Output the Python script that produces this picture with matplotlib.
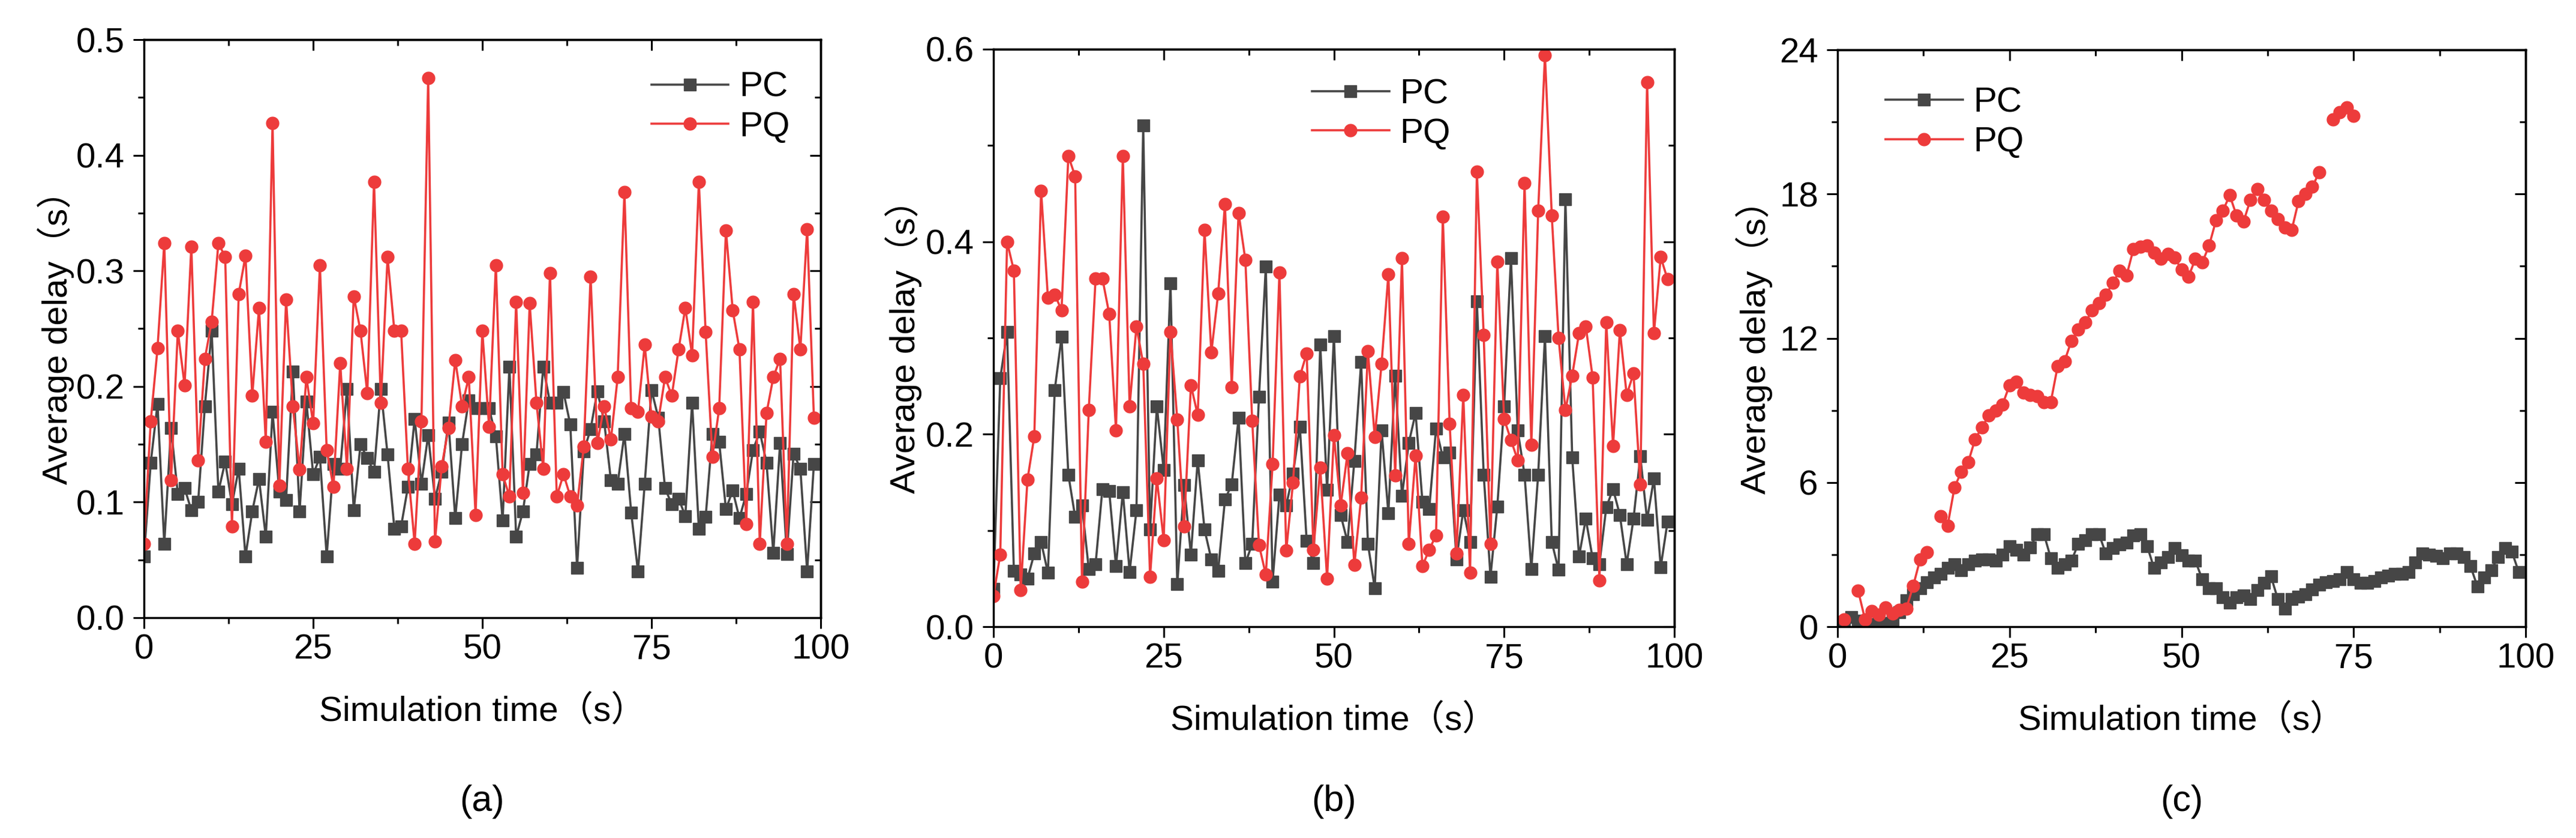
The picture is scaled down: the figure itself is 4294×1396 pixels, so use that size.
import numpy as np
import matplotlib
matplotlib.use('Agg')
import matplotlib.pyplot as plt
from matplotlib.ticker import MultipleLocator

plt.rcParams['font.family'] = ['Liberation Sans', 'Noto Sans CJK SC', 'DejaVu Sans']

# simulation time, one point per second
t = np.arange(100)

# panel (a)
pc_a = [0.053, 0.134, 0.185, 0.064, 0.164, 0.107, 0.112, 0.093, 0.100, 0.183,
        0.248, 0.109, 0.135, 0.098, 0.129, 0.053, 0.092, 0.120, 0.070, 0.178,
        0.109, 0.102, 0.213, 0.092, 0.187, 0.124, 0.139, 0.053, 0.133, 0.129,
        0.198, 0.093, 0.150, 0.138, 0.126, 0.198, 0.141, 0.077, 0.079, 0.113,
        0.172, 0.116, 0.158, 0.103, 0.126, 0.169, 0.086, 0.150, 0.188, 0.181,
        0.181, 0.181, 0.157, 0.084, 0.217, 0.070, 0.092, 0.133, 0.141, 0.217,
        0.186, 0.186, 0.195, 0.167, 0.043, 0.144, 0.163, 0.196, 0.170, 0.119,
        0.116, 0.159, 0.091, 0.040, 0.116, 0.197, 0.173, 0.112, 0.098, 0.103,
        0.088, 0.186, 0.077, 0.087, 0.159, 0.152, 0.094, 0.110, 0.086, 0.107,
        0.145, 0.161, 0.134, 0.056, 0.151, 0.055, 0.142, 0.129, 0.040, 0.133]
pq_a = [0.064, 0.170, 0.233, 0.324, 0.119, 0.248, 0.201, 0.321, 0.136, 0.224,
        0.256, 0.324, 0.312, 0.079, 0.280, 0.313, 0.192, 0.268, 0.152, 0.428,
        0.114, 0.275, 0.183, 0.128, 0.208, 0.168, 0.305, 0.145, 0.113, 0.220,
        0.129, 0.278, 0.248, 0.194, 0.377, 0.186, 0.312, 0.248, 0.248, 0.129,
        0.064, 0.170, 0.467, 0.066, 0.131, 0.164, 0.223, 0.183, 0.208, 0.089,
        0.248, 0.165, 0.305, 0.124, 0.105, 0.273, 0.108, 0.272, 0.186, 0.129,
        0.298, 0.105, 0.124, 0.105, 0.097, 0.148, 0.295, 0.151, 0.183, 0.154,
        0.208, 0.368, 0.181, 0.178, 0.236, 0.174, 0.170, 0.208, 0.192, 0.232,
        0.268, 0.227, 0.377, 0.247, 0.139, 0.181, 0.335, 0.266, 0.232, 0.081,
        0.273, 0.064, 0.177, 0.208, 0.224, 0.064, 0.280, 0.232, 0.336, 0.173]

# panel (b)
pc_b = [0.039, 0.258, 0.306, 0.058, 0.054, 0.050, 0.076, 0.088, 0.056, 0.246,
        0.301, 0.158, 0.114, 0.126, 0.060, 0.065, 0.143, 0.141, 0.063, 0.140,
        0.057, 0.121, 0.521, 0.101, 0.229, 0.163, 0.357, 0.044, 0.147, 0.075,
        0.173, 0.101, 0.070, 0.058, 0.132, 0.148, 0.217, 0.066, 0.086, 0.239,
        0.374, 0.047, 0.137, 0.126, 0.159, 0.208, 0.089, 0.066, 0.293, 0.142,
        0.302, 0.116, 0.088, 0.172, 0.275, 0.086, 0.040, 0.204, 0.118, 0.261,
        0.136, 0.191, 0.222, 0.130, 0.122, 0.206, 0.176, 0.181, 0.070, 0.121,
        0.088, 0.338, 0.158, 0.052, 0.125, 0.229, 0.383, 0.204, 0.158, 0.060,
        0.158, 0.302, 0.088, 0.059, 0.444, 0.176, 0.073, 0.112, 0.071, 0.065,
        0.124, 0.143, 0.116, 0.065, 0.112, 0.177, 0.111, 0.154, 0.062, 0.109]
pq_b = [0.032, 0.075, 0.400, 0.370, 0.038, 0.153, 0.198, 0.453, 0.342, 0.345,
        0.329, 0.489, 0.468, 0.047, 0.225, 0.362, 0.362, 0.325, 0.204, 0.489,
        0.229, 0.312, 0.273, 0.052, 0.154, 0.090, 0.306, 0.215, 0.104, 0.251,
        0.220, 0.412, 0.285, 0.346, 0.439, 0.249, 0.430, 0.381, 0.214, 0.085,
        0.054, 0.169, 0.368, 0.079, 0.150, 0.260, 0.284, 0.080, 0.165, 0.050,
        0.199, 0.126, 0.180, 0.064, 0.134, 0.286, 0.197, 0.273, 0.366, 0.157,
        0.383, 0.086, 0.178, 0.063, 0.080, 0.095, 0.426, 0.211, 0.076, 0.241,
        0.056, 0.473, 0.303, 0.086, 0.379, 0.216, 0.194, 0.173, 0.461, 0.189,
        0.432, 0.594, 0.427, 0.300, 0.225, 0.261, 0.305, 0.312, 0.259, 0.048,
        0.316, 0.188, 0.308, 0.241, 0.263, 0.148, 0.566, 0.305, 0.384, 0.361]

# panel (c), nan where no point is drawn
pc_c = [0.15, 0.20, 0.40, 0.25, 0.10, 0.10, 0.15, 0.15, 0.30, 0.60,
        1.10, 1.35, 1.60, 1.85, 2.05, 2.20, 2.45, 2.60, 2.35, 2.60,
        2.75, 2.80, 2.80, 2.75, 3.00, 3.35, 3.20, 3.00, 3.30, 3.85,
        3.85, 2.85, 2.45, 2.60, 2.75, 3.45, 3.60, 3.85, 3.85, 3.04,
        3.27, 3.42, 3.50, 3.80, 3.85, 3.35, 2.44, 2.66, 2.89, 3.27,
        2.97, 2.74, 2.74, 1.98, 1.60, 1.60, 1.22, 0.99, 1.22, 1.29,
        1.14, 1.52, 1.83, 2.09, 1.14, 0.76, 1.14, 1.25, 1.35, 1.55,
        1.75, 1.85, 1.90, 1.98, 2.28, 1.98, 1.83, 1.83, 1.90, 2.05,
        2.13, 2.20, 2.20, 2.28, 2.66, 3.04, 3.00, 2.94, 2.85, 3.04,
        3.04, 2.89, 2.51, 1.67, 2.05, 2.36, 2.89, 3.27, 3.12, 2.28]
pq_c = [np.nan, 0.30, np.nan, 1.50, 0.30, 0.65, 0.50, 0.80, 0.55, 0.70,
        0.75, 1.70, 2.80, 3.10, np.nan, 4.60, 4.20, 5.80, 6.45, 6.85,
        7.80, 8.30, 8.80, 9.00, 9.25, 10.05, 10.20, 9.75, 9.65, 9.60,
        9.35, 9.35, 10.85, 11.05, 11.90, 12.35, 12.65, 13.15, 13.45, 13.80,
        14.30, 14.80, 14.60, 15.70, 15.80, 15.85, 15.55, 15.30, 15.50, 15.35,
        14.85, 14.55, 15.30, 15.15, 15.85, 16.90, 17.30, 17.95, 17.10, 16.85,
        17.75, 18.20, 17.75, 17.30, 16.95, 16.60, 16.50, 17.70, 18.00, 18.30,
        18.90, np.nan, 21.10, 21.40, 21.60, 21.25] + [np.nan] * 24

GRAY = '#464646'
RED = '#ed3b3b'
FS = 42
W, H = 4294, 1396


def px_rect(left, top, right, bottom):
    # pixel box -> figure fraction rect
    return [left / W, 1 - bottom / H, (right - left) / W, (bottom - top) / H]


panels = [
    # box, pc, pq, ylim, major, minor, yfmt, legend anchor, ylabel x offset(px), tag
    ((240, 66, 1368, 1029), pc_a, pq_a, (0, 0.5), 0.1, 0.05, '{:.1f}', (0.75, 0.945), 147, '(a)'),
    ((1656, 82, 2791, 1044), pc_b, pq_b, (0, 0.6), 0.2, 0.1, '{:.1f}', (0.468, 0.950), 150, '(b)'),
    ((3063, 83, 4210, 1044), pc_c, pq_c, (0, 24), 6, 3, '{:.0f}', (0.070, 0.936), 139, '(c)'),
]

fig = plt.figure(figsize=(W / 100, H / 100), dpi=100)

for box, pc, pq, ylim, major, minor, yfmt, anchor, ylab_dx, tag in panels:
    rect = px_rect(*box)
    w_px, h_px = box[2] - box[0], box[3] - box[1]
    ax = fig.add_axes(rect)
    ax.plot(t, pc, color=GRAY, lw=2.6, marker='s', ms=14, mec=GRAY, mfc=GRAY, label='PC')
    ax.plot(t, pq, color=RED, lw=2.6, marker='o', ms=15, mec=RED, mfc=RED, label='PQ')
    ax.set_xlim(0, 100)
    ax.xaxis.set_major_locator(MultipleLocator(25))
    ax.xaxis.set_minor_locator(MultipleLocator(12.5))
    yt = np.arange(ylim[0], ylim[1] + major / 2, major)
    ax.set_yticks(yt)
    ax.set_yticklabels([yfmt.format(v) for v in yt])
    ax.yaxis.set_minor_locator(MultipleLocator(minor))
    ax.set_ylim(*ylim)
    for s in ax.spines.values():
        s.set_linewidth(2.5)
    ax.tick_params(which='both', direction='out', labelsize=FS, width=2.2)
    ax.tick_params(axis='x', pad=6)
    ax.tick_params(axis='y', pad=10)
    ax.tick_params(which='major', length=13)
    ax.tick_params(which='minor', length=7)

    # mirrored ticks pointing inwards on the top and right
    top = ax.secondary_xaxis('top')
    top.xaxis.set_major_locator(MultipleLocator(25))
    top.xaxis.set_minor_locator(MultipleLocator(12.5))
    right = ax.secondary_yaxis('right')
    right.yaxis.set_major_locator(MultipleLocator(major))
    right.yaxis.set_minor_locator(MultipleLocator(minor))
    for sec in (top, right):
        sec.tick_params(which='both', direction='in', width=2.2, labeltop=False,
                        labelright=False, labelbottom=False, labelleft=False)
        sec.tick_params(which='major', length=13)
        sec.tick_params(which='minor', length=7)
        for s in sec.spines.values():
            s.set_linewidth(2.5)

    ax.set_xlabel('Simulation time（s）', fontsize=FS, va='center')
    ax.xaxis.set_label_coords(0.5, -157 / h_px)
    ax.set_ylabel('Average delay（s）', fontsize=FS, va='center')
    ax.yaxis.set_label_coords(-ylab_dx / w_px, 0.5)
    ax.legend(loc='upper left', bbox_to_anchor=anchor, frameon=False, fontsize=42,
              handlelength=2.2, handletextpad=0.31, labelspacing=0.2,
              borderpad=0, borderaxespad=0)
    fig.text(rect[0] + rect[2] / 2, 0.043, tag, ha='center', va='center', fontsize=44)

fig.savefig('out.png', dpi=100)
